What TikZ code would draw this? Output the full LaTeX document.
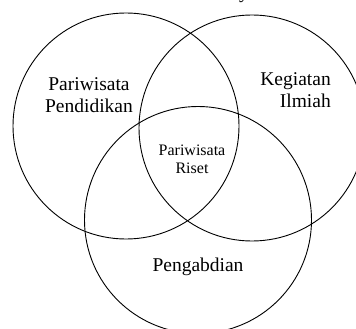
\documentclass[tikz,border=0pt]{standalone}
\usepackage{fontspec}
\setmainfont{Liberation Serif}
\begin{document}
\begin{tikzpicture}[x=1pt,y=1pt,
  venn/.style={draw=black,line width=0.9pt},
  lbl/.style={inner sep=0pt,font=\fontsize{19.5}{22.5}\selectfont,text=black},
  lblsmall/.style={inner sep=0pt,font=\fontsize{16}{18}\selectfont,text=black}]
\useasboundingbox (0,0) rectangle (356,-329);
\clip (0,0) rectangle (356,-329);
\draw[venn] (126,-126) circle (113);
\draw[venn] (252,-128) circle (113);
\draw[venn] (198,-220) circle (113.5);
\node[lbl,align=center] (pp) at (89,-95) {Pariwisata\\Pendidikan};
\node[lbl,align=right,anchor=east] (ki) at (331,-90) {Kegiatan\\Ilmiah};
\node[lblsmall,align=center] (pr) at (192,-159) {Pariwisata\\Riset};
\node[lbl] (pg) at (198,-267) {Pengabdian};
\node[lbl,anchor=base] (ty) at (244,1.5) {y};
\end{tikzpicture}
\end{document}
